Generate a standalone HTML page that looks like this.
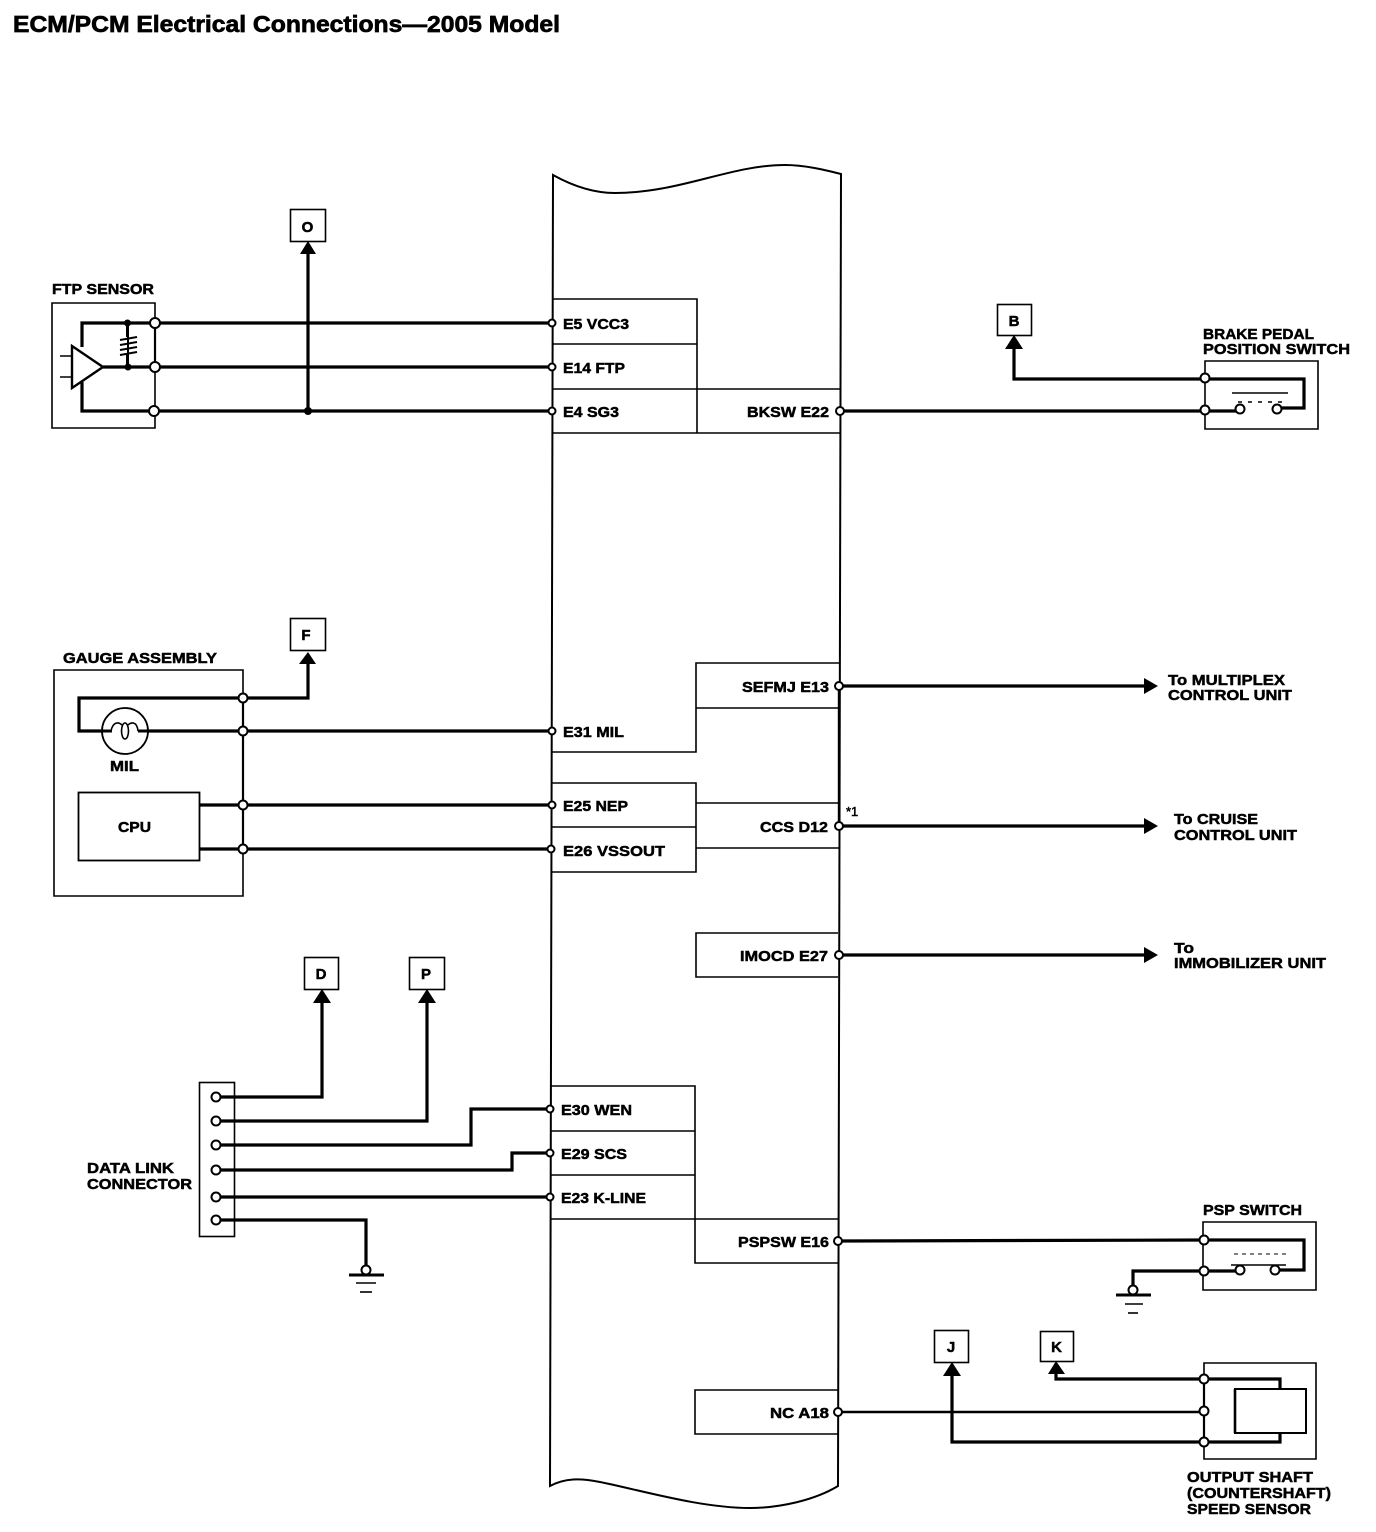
<!DOCTYPE html>
<html>
<head>
<meta charset="utf-8">
<style>
html,body{margin:0;padding:0;background:#fff;}
svg{display:block;}
text{font-family:"Liberation Sans",sans-serif;font-weight:bold;font-size:15px;fill:#000;stroke:#000;stroke-width:.5px;}
.t{fill:none;stroke:#000;stroke-width:1.6;}
.w{fill:none;stroke:#000;stroke-width:3.2;}
.n{fill:#fff;stroke:#000;stroke-width:2;}
.a{fill:#000;stroke:none;}
.d{fill:#000;stroke:none;}
</style>
</head>
<body>
<svg width="1376" height="1532" viewBox="0 0 1376 1532" xmlns="http://www.w3.org/2000/svg">
<rect width="1376" height="1532" fill="#fff"/>
<text x="13" y="32" style="font-size:23px;stroke-width:.7px" textLength="547" lengthAdjust="spacingAndGlyphs">ECM/PCM Electrical Connections—2005 Model</text>

<!-- main ECM body -->
<path d="M553 175 C580 190 600 193 615 193 C680 193 730 165 785 165 C805 165 825 170 841 174 L838 1486 C815 1500 780 1508 750 1508 C700 1508 640 1490 600 1482 C580 1478 565 1478 550 1486 Z" class="t" style="stroke-width:2"/>

<!-- pin boxes -->
<path class="t" d="M552 299H697V433M552 344H697M552 389H840M552 433H840"/>
<path class="t" d="M840 663H696V752H552M696 708H840"/>
<path class="t" d="M552 783H696V872H552M552 827H696M696 803H840M696 848H840"/>
<path class="t" d="M838 933H696V977H838"/>
<path class="t" d="M550 1086H695V1263H838M550 1131H695M550 1175H695M550 1219H838"/>
<path class="t" d="M838 1390H695V1434H838"/>
<path class="w" d="M839 686V826" style="stroke-width:2.4"/>

<!-- pin labels -->
<text x="563" y="329" textLength="66" lengthAdjust="spacingAndGlyphs">E5 VCC3</text>
<text x="563" y="373" textLength="62" lengthAdjust="spacingAndGlyphs">E14 FTP</text>
<text x="563" y="417" textLength="56" lengthAdjust="spacingAndGlyphs">E4 SG3</text>
<text x="747" y="417" textLength="82" lengthAdjust="spacingAndGlyphs">BKSW E22</text>
<text x="742" y="692" textLength="87" lengthAdjust="spacingAndGlyphs">SEFMJ E13</text>
<text x="563" y="737" textLength="61" lengthAdjust="spacingAndGlyphs">E31 MIL</text>
<text x="563" y="811" textLength="65" lengthAdjust="spacingAndGlyphs">E25 NEP</text>
<text x="563" y="856" textLength="102" lengthAdjust="spacingAndGlyphs">E26 VSSOUT</text>
<text x="760" y="832" textLength="68" lengthAdjust="spacingAndGlyphs">CCS D12</text>
<text x="740" y="961" textLength="88" lengthAdjust="spacingAndGlyphs">IMOCD E27</text>
<text x="561" y="1115" textLength="71" lengthAdjust="spacingAndGlyphs">E30 WEN</text>
<text x="561" y="1159" textLength="66" lengthAdjust="spacingAndGlyphs">E29 SCS</text>
<text x="561" y="1203" textLength="85" lengthAdjust="spacingAndGlyphs">E23 K-LINE</text>
<text x="738" y="1247" textLength="91" lengthAdjust="spacingAndGlyphs">PSPSW E16</text>
<text x="770" y="1418" textLength="59" lengthAdjust="spacingAndGlyphs">NC A18</text>
<text x="846" y="816" style="font-size:13px;font-weight:normal">*1</text>

<!-- FTP sensor -->
<text x="52" y="294" textLength="102" lengthAdjust="spacingAndGlyphs">FTP SENSOR</text>
<path class="t" d="M155 303H52V428H155Z"/>
<path class="t" d="M155 323V367" style="stroke-width:2.2"/>
<path class="w" d="M82 347V323H552M82 382V411H552M103 367H552"/>
<path fill="#fff" stroke="#000" stroke-width="2.4" d="M72 346L103 367L72 388Z"/>
<path class="t" d="M60 356H72M60 377H72"/>
<circle class="d" cx="127.500" cy="323" r="3.500"/><circle class="d" cx="128" cy="367" r="3.500"/>
<path class="w" d="M127.500 323V337M127.500 353V366" style="stroke-width:3"/>
<path class="t" style="stroke-width:2" d="M120 340L137 337M120 345L137 342M120 350L137 347M120 355L137 352M128 337L128 355"/>
<circle class="n" cx="155" cy="323" r="5"/><circle class="n" cx="155" cy="367" r="5"/><circle class="n" cx="154" cy="411" r="5"/>
<path class="w" d="M308 250V411"/>
<circle class="d" cx="308" cy="411" r="4"/>
<path class="a" d="M308 241L316 254H300Z"/>
<rect x="290.500" y="209.500" width="35" height="32" fill="#fff" stroke="#000" stroke-width="1.600"/>
<text x="307.500" y="232" text-anchor="middle">O</text>
<circle class="n" cx="552" cy="323" r="3.500"/><circle class="n" cx="552" cy="367" r="3.500"/><circle class="n" cx="552" cy="411" r="3.500"/>

<!-- Brake switch -->
<text x="1203" y="339" textLength="111" lengthAdjust="spacingAndGlyphs">BRAKE PEDAL</text>
<text x="1203" y="354" textLength="147" lengthAdjust="spacingAndGlyphs">POSITION SWITCH</text>
<path class="t" d="M1205 361H1318V429H1205Z"/>
<path class="w" d="M840 411H1240M1014 345V379H1304V408H1277"/>
<path class="a" d="M1014 335L1023 349H1005Z"/>
<rect x="997.500" y="304.500" width="34" height="31" fill="#fff" stroke="#000" stroke-width="1.600"/>
<text x="1014" y="326" text-anchor="middle">B</text>
<path class="t" d="M1232 393H1288"/>
<path class="t" d="M1238 402H1286" stroke-dasharray="4 6"/>
<circle class="n" cx="1240" cy="409" r="4.500"/><circle class="n" cx="1277" cy="409" r="4.500"/>
<circle class="n" cx="1205" cy="378" r="4.500"/><circle class="n" cx="1205" cy="410" r="4.500"/>
<circle class="n" cx="840" cy="411" r="4"/>

<!-- Gauge -->
<text x="63" y="663" textLength="154" lengthAdjust="spacingAndGlyphs">GAUGE ASSEMBLY</text>
<path class="t" d="M243 670H54V896H243Z"/>
<path class="t" d="M243 698V849" style="stroke-width:2.2"/>
<path class="w" d="M308 663V698H79V731H552M199 805H552M199 849H552"/>
<path class="a" d="M308 652L316 664H299Z"/>
<rect x="290.500" y="618.500" width="35" height="32" fill="#fff" stroke="#000" stroke-width="1.600"/>
<text x="306" y="640" text-anchor="middle">F</text>
<circle cx="125" cy="731" r="23" fill="#fff" stroke="#000" stroke-width="1.800"/>
<path class="w" d="M102 731H112M138 731H148" style="stroke-width:3"/>
<path class="t" d="M111 731C113 721 119 722 122 725M128 725C131 722 137 721 138 731"/>
<ellipse cx="125" cy="731" rx="3.500" ry="8" fill="none" stroke="#000" stroke-width="1.600"/>
<text x="110" y="771" textLength="29" lengthAdjust="spacingAndGlyphs">MIL</text>
<rect x="78.500" y="792.500" width="121" height="68" fill="#fff" stroke="#000" stroke-width="1.800"/>
<text x="118" y="832" textLength="33" lengthAdjust="spacingAndGlyphs">CPU</text>
<circle class="n" cx="243" cy="698" r="4.500"/><circle class="n" cx="243" cy="731" r="4.500"/><circle class="n" cx="243" cy="805" r="4.500"/><circle class="n" cx="243" cy="849" r="4.500"/>
<circle class="n" cx="552" cy="731" r="3.500"/><circle class="n" cx="552" cy="805" r="3.500"/><circle class="n" cx="551" cy="849" r="3.500"/>

<!-- right arrows -->
<path class="w" d="M840 686H1146M840 826H1146M840 955H1146"/>
<path class="a" d="M1158 686L1144 678V694ZM1158 826L1144 818V834ZM1158 955L1144 947V963Z"/>
<circle class="n" cx="839" cy="686" r="4"/><circle class="n" cx="839" cy="826" r="4"/><circle class="n" cx="839" cy="955" r="4"/>
<text x="1168" y="685" textLength="117" lengthAdjust="spacingAndGlyphs">To MULTIPLEX</text>
<text x="1168" y="700" textLength="124" lengthAdjust="spacingAndGlyphs">CONTROL UNIT</text>
<text x="1174" y="824" textLength="84" lengthAdjust="spacingAndGlyphs">To CRUISE</text>
<text x="1174" y="840" textLength="123" lengthAdjust="spacingAndGlyphs">CONTROL UNIT</text>
<text x="1174" y="953" textLength="20" lengthAdjust="spacingAndGlyphs">To</text>
<text x="1174" y="968" textLength="152" lengthAdjust="spacingAndGlyphs">IMMOBILIZER UNIT</text>

<!-- Data link -->
<text x="87" y="1173" textLength="87" lengthAdjust="spacingAndGlyphs">DATA LINK</text>
<text x="87" y="1189" textLength="105" lengthAdjust="spacingAndGlyphs">CONNECTOR</text>
<rect x="199.500" y="1082.500" width="35" height="154" fill="#fff" stroke="#000" stroke-width="1.600"/>
<path class="w" d="M216 1097H322V1000M216 1121H427V1000M216 1145H471V1109H550M216 1170H512V1153H550M216 1197H550M216 1220H366V1266"/>
<path class="a" d="M322 989L331 1003H313ZM427 989L436 1003H418Z"/>
<rect x="304.500" y="957.500" width="34" height="32" fill="#fff" stroke="#000" stroke-width="1.600"/>
<text x="321" y="979" text-anchor="middle">D</text>
<rect x="409.500" y="957.500" width="35" height="32" fill="#fff" stroke="#000" stroke-width="1.600"/>
<text x="426" y="979" text-anchor="middle">P</text>
<circle class="n" cx="216" cy="1097" r="4.500"/><circle class="n" cx="216" cy="1121" r="4.500"/><circle class="n" cx="216" cy="1145" r="4.500"/><circle class="n" cx="216" cy="1170" r="4.500"/><circle class="n" cx="216" cy="1197" r="4.500"/><circle class="n" cx="216" cy="1220" r="4.500"/>
<circle class="n" cx="550" cy="1109" r="3.500"/><circle class="n" cx="550" cy="1153" r="3.500"/><circle class="n" cx="550" cy="1197" r="3.500"/>
<circle class="n" cx="366" cy="1270" r="4.500"/>
<path class="w" d="M349 1275H384" style="stroke-width:3"/>
<path class="t" d="M356 1283H376"/>
<path class="t" d="M360 1292H372"/>

<!-- PSP switch -->
<text x="1203" y="1215" textLength="99" lengthAdjust="spacingAndGlyphs">PSP SWITCH</text>
<path class="t" d="M1203 1222H1316V1290H1203Z"/>
<path class="w" d="M838 1241L1204 1240H1304V1270H1275M1133 1286V1271H1238"/>
<path class="t" d="M1231 1265H1286"/>
<path class="t" d="M1234 1254H1286" stroke-dasharray="4 4" style="stroke-width:1"/>
<circle class="n" cx="1240" cy="1270" r="4.500"/><circle class="n" cx="1275" cy="1270" r="4.500"/>
<circle class="n" cx="1204" cy="1240" r="4.500"/><circle class="n" cx="1204" cy="1271" r="4.500"/>
<circle class="n" cx="838" cy="1241" r="4"/>
<circle class="n" cx="1133" cy="1290" r="4.500"/>
<path class="w" d="M1116 1295H1151" style="stroke-width:3"/>
<path class="t" d="M1125 1304H1143"/>
<path class="t" d="M1128 1313H1138"/>

<!-- Output shaft sensor -->
<path class="t" d="M1204 1363H1316V1459H1204Z"/>
<path class="t" d="M1204 1379V1442" style="stroke-width:2.2"/>
<path class="w" d="M1056 1372V1379H1280V1389M952 1372V1442H1280V1433"/>
<path class="w" style="stroke-width:2.400" d="M838 1412H1204"/>
<path class="a" d="M1056 1361L1065 1374H1048ZM952 1362L961 1376H943Z"/>
<rect x="1040.500" y="1331.500" width="33" height="30" fill="#fff" stroke="#000" stroke-width="1.600"/>
<text x="1056.500" y="1352" text-anchor="middle">K</text>
<rect x="934.500" y="1330.500" width="34" height="32" fill="#fff" stroke="#000" stroke-width="1.600"/>
<text x="951" y="1352" text-anchor="middle">J</text>
<rect x="1235" y="1389" width="71" height="44" fill="#fff" stroke="#000" stroke-width="2"/>
<path class="t" d="M1235 1389V1433" style="stroke-width:2.600"/>
<circle class="n" cx="1204" cy="1379" r="4.500"/><circle class="n" cx="1204" cy="1411" r="4.500"/><circle class="n" cx="1204" cy="1442" r="4.500"/>
<circle class="n" cx="838" cy="1412" r="4"/>
<text x="1187" y="1482" textLength="126" lengthAdjust="spacingAndGlyphs">OUTPUT SHAFT</text>
<text x="1187" y="1498" textLength="144" lengthAdjust="spacingAndGlyphs">(COUNTERSHAFT)</text>
<text x="1187" y="1514" textLength="124" lengthAdjust="spacingAndGlyphs">SPEED SENSOR</text>
</svg>
</body>
</html>
